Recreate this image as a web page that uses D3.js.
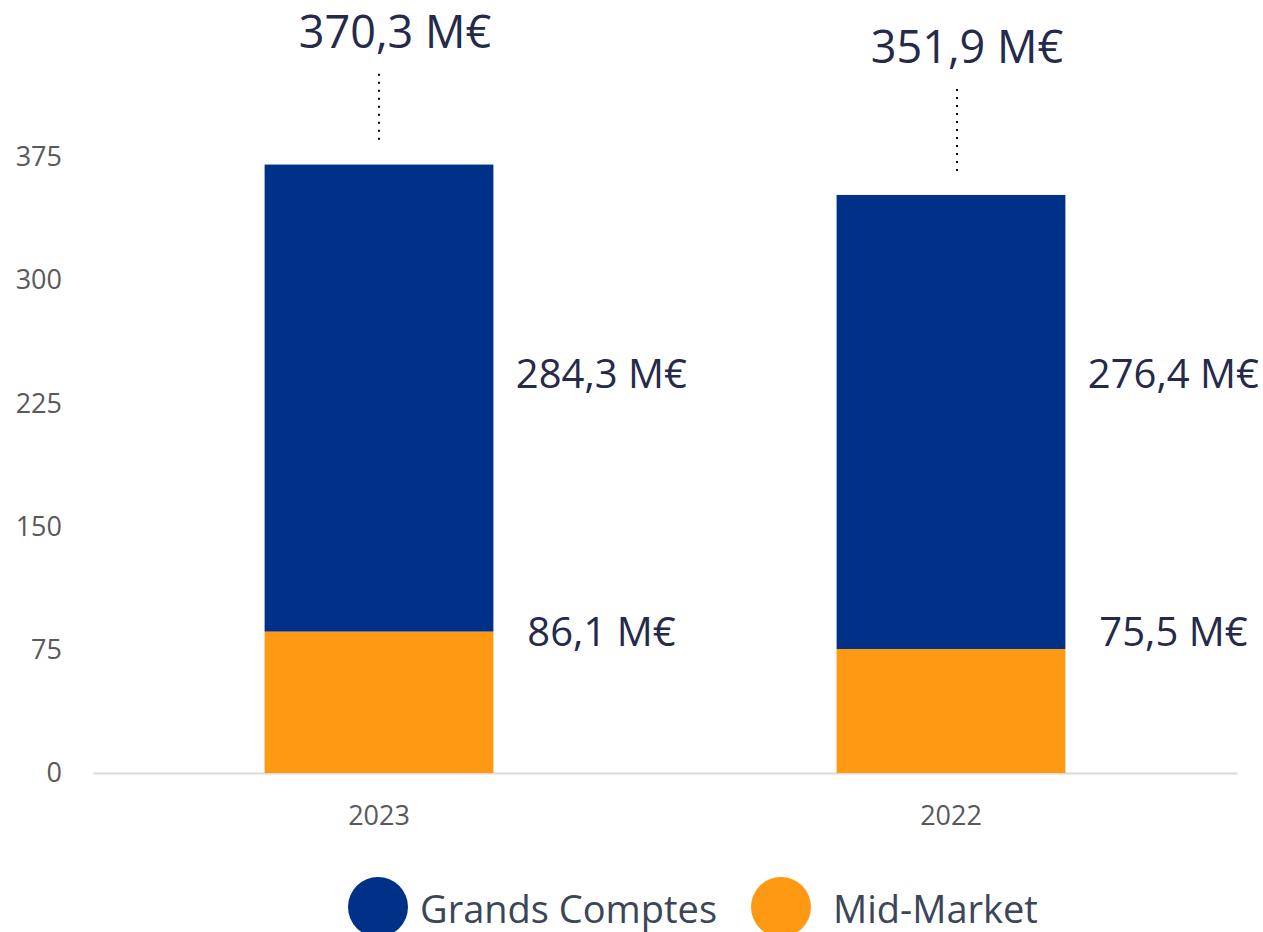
<!DOCTYPE html>
<html>
<head>
<meta charset="utf-8">
<script src="https://cdn.jsdelivr.net/npm/d3@7"></script>
<style>
  html, body { margin: 0; padding: 0; background: #fff; }
  svg { display: block; font-family: "Open Sans", "Noto Sans", sans-serif; }
</style>
</head>
<body>
<div id="chart"></div>
<script>
// Chart data
const categories = ['2023', '2022'];
const grandsComptes = [284.3, 276.4];
const midMarket = [86.1, 75.5];
const totals = [370.3, 351.9];
const yTicks = [0, 75, 150, 225, 300, 375];
const seriesNames = ['Mid-Market', 'Grands Comptes'];
const legendOrder = ['Grands Comptes', 'Mid-Market'];

const colors = { 'Grands Comptes': '#003189', 'Mid-Market': '#FF9914' };
const labelColor = '#252A4A';

const width = 1263, height = 932;
const margin = { left: 93, right: 26, top: 157, bottom: 159 };

const fr = d3.formatLocale({ decimal: ',', thousands: ' ', grouping: [3], currency: ['', '€'] });
const fmt = v => fr.format('.1f')(v) + ' M€';

const rows = categories.map((c, i) => ({
  cat: c,
  'Mid-Market': midMarket[i],
  'Grands Comptes': grandsComptes[i],
  total: totals[i]
}));

const svg = d3.select('#chart').append('svg')
  .attr('width', width)
  .attr('height', height);

const x = d3.scaleBand()
  .domain(categories)
  .range([margin.left, width - margin.right])
  .paddingInner(0.6)
  .paddingOuter(0.3);

const y = d3.scaleLinear()
  .domain([0, 375])
  .range([height - margin.bottom, margin.top]);

// Y axis labels (no line)
const yAxis = svg.append('g')
  .attr('transform', `translate(${margin.left}, 0)`)
  .call(d3.axisLeft(y).tickValues(yTicks).tickSize(0).tickPadding(31));
yAxis.select('.domain').remove();
yAxis.selectAll('text')
  .attr('fill', '#595959')
  .style('font-size', '27px')
  .style('font-family', '"Open Sans", sans-serif');

// X axis with light baseline
const xAxis = svg.append('g')
  .attr('transform', `translate(0, ${y(0)})`)
  .call(d3.axisBottom(x).tickSize(0).tickSizeOuter(0).tickPadding(33));
xAxis.select('.domain')
  .attr('stroke', '#D9D9D9')
  .attr('stroke-width', 2);
xAxis.selectAll('text')
  .attr('fill', '#595959')
  .style('font-size', '27px')
  .style('font-family', '"Open Sans", sans-serif');

// Stacked bars
const stack = d3.stack().keys(seriesNames);
const layers = stack(rows);

svg.append('g')
  .selectAll('g')
  .data(layers)
  .join('g')
  .attr('fill', d => colors[d.key])
  .selectAll('rect')
  .data(d => d)
  .join('rect')
  .attr('x', d => x(d.data.cat))
  .attr('width', x.bandwidth())
  .attr('y', d => y(d[1]))
  .attr('height', d => y(d[0]) - y(d[1]));

// Segment value labels, right of the bars
const labelX = d => x(d.cat) + x.bandwidth() + 108;
const orangeLevel = d3.max(midMarket);
const blueLevel = 243;

svg.append('g')
  .selectAll('text')
  .data(rows)
  .join('text')
  .attr('x', labelX)
  .attr('y', y(blueLevel))
  .attr('dy', '0.36em')
  .attr('text-anchor', 'middle')
  .attr('fill', labelColor)
  .style('font-size', '40px')
  .text(d => fmt(d['Grands Comptes']));

svg.append('g')
  .selectAll('text')
  .data(rows)
  .join('text')
  .attr('x', labelX)
  .attr('y', y(orangeLevel))
  .attr('dy', '0.36em')
  .attr('text-anchor', 'middle')
  .attr('fill', labelColor)
  .style('font-size', '40px')
  .text(d => fmt(d['Mid-Market']));

// Totals with dotted leader lines
const totalBaseline = d => (y(d.total) + y(yTicks[yTicks.length - 1])) / 2 - 113;

const totalG = svg.append('g')
  .selectAll('g')
  .data(rows)
  .join('g');

totalG.append('line')
  .attr('x1', (d, i) => x(d.cat) + x.bandwidth() / 2 + i * 6)
  .attr('x2', (d, i) => x(d.cat) + x.bandwidth() / 2 + i * 6)
  .attr('y1', d => totalBaseline(d) + 26)
  .attr('y2', d => y(d.total) - 22)
  .attr('stroke', '#000')
  .attr('stroke-width', 2)
  .attr('stroke-dasharray', '2,6');

totalG.append('text')
  .attr('x', d => x(d.cat) + x.bandwidth() / 2 + 16)
  .attr('y', totalBaseline)
  .attr('text-anchor', 'middle')
  .attr('fill', labelColor)
  .style('font-size', '45px')
  .text(d => fmt(d.total));

// Legend
const legend = svg.append('g')
  .attr('transform', 'translate(0, 907)');

const legendX = [378, 781];
const item = legend.selectAll('g')
  .data(legendOrder)
  .join('g')
  .attr('transform', (d, i) => `translate(${legendX[i]}, 0)`);

item.append('circle')
  .attr('r', 30)
  .attr('fill', d => colors[d]);

item.append('text')
  .attr('x', (d, i) => i === 0 ? 42 : 52)
  .attr('y', 16)
  .attr('fill', '#3B4658')
  .style('font-size', '38px')
  .text(d => d);
</script>
</body>
</html>
